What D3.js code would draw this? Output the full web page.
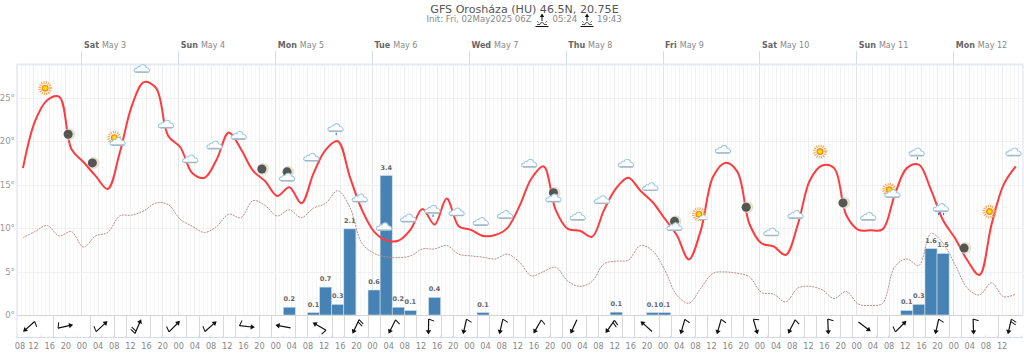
<!DOCTYPE html>
<html>
<head>
<meta charset="utf-8">
<style>
	body { margin: 0; background: #fff; }
	text { font-family: "DejaVu Sans", sans-serif; }
</style>
</head>
<body>
<svg width="1024" height="355"></svg>

<script src="https://d3js.org/d3.v7.min.js"></script>
<script>

	// Values, one entry per 3h step starting Fri 09:30
	const temperature = [
		16.9, 22.3, 24.7, 25.1, 19.1, 17.6, 16.0, 14.5, 18.7, 24.1, 26.8, 26.1, 20.6, 19.3, 16.3, 15.8, 17.9, 21.0, 19.1, 16.6, 15.4,
		13.7, 14.7, 12.85, 16.3, 19.0, 20.0, 15.9, 12.1, 9.6, 8.6, 8.55, 9.8, 12.2, 10.4, 13.4, 10.2, 9.8, 9.1, 9.2, 10.0, 12.5,
		15.7, 17.1, 12.1, 9.9, 9.7, 9.0, 12.1, 14.6, 15.8, 14.3, 13.0, 11.1, 9.2, 6.4, 9.8, 15.9, 17.5, 16.5, 10.5, 8.25, 7.9,
		6.9, 10.4, 15.5, 17.2, 16.9, 11.5, 9.8, 9.75, 9.85, 13.8, 16.9, 17.3, 14.4, 10.9, 8.8, 6.3, 4.6, 10.4, 15.0, 17.1
	]
	const dewPoint = [
		8.9, 9.6, 10.3, 9.1, 9.6, 7.8, 9.1, 9.5, 11.4, 11.5, 12.0, 12.9, 12.7, 11.0, 10.2, 9.5, 10.2, 11.6, 11.2, 13.15, 12.6,
		11.4, 12.1, 11.2, 12.3, 12.85, 14.3, 12.4, 8.25, 7.1, 6.7, 6.6, 6.8, 7.6, 7.6, 8.0, 7.0, 6.8, 6.65, 6.45, 7.0, 6.1,
		4.5, 5.0, 5.5, 3.9, 3.3, 3.85, 5.9, 6.2, 6.3, 8.0, 7.4, 5.2, 2.3, 1.35, 3.1, 4.8, 4.95, 4.8, 4.4, 2.6, 2.4,
		1.5, 3.1, 3.3, 2.9, 1.9, 2.7, 1.25, 1.1, 1.35, 5.55, 6.45, 5.7, 9.4, 8.25, 5.75, 3.1, 2.3, 3.7, 2.1, 2.4
	]

	// Precipitation, mm per step
	const rainSteps = [22, 24, 25, 26, 27, 29, 30, 31, 32, 34, 38, 49, 52, 53, 73, 74, 75, 76]
	const rainValues = [0.19, 0.06, 0.68, 0.26, 2.1, 0.61, 3.4, 0.19, 0.11, 0.43, 0.06, 0.07, 0.06, 0.06, 0.11, 0.26, 1.62, 1.5]

	// Weather symbols, one every 6h from Fri 15:00
	const iconKinds = [
		"sun", "moon", "moon", "suncloud", "cloud", "cloud", "cloud", "cloud", "cloud", "moon", "mooncloud",
		"cloud", "rain", "cloud", "rain2", "cloud", "rain", "cloud", "cloud", "cloud", "cloud",
		"mooncloud", "cloud", "cloud", "cloud", "cloud", "mooncloud", "sunsmall", "cloud", "moon", "cloud",
		"cloud", "sun", "moon", "cloud", "suncloud", "rain", "rain2", "moon", "sun", "cloud"
	]
	const iconLevels = [
		26.1, 20.8, 17.5, 20.0, 28.4, 22.0, 18.0, 19.6, 20.7, 16.8, 15.9,
		18.2, 21.6, 13.5, 10.2, 11.2, 12.2, 11.9, 10.8, 11.6, 17.5,
		13.5, 11.4, 13.3, 17.5, 14.8, 10.2, 11.6, 19.1, 12.4, 9.6,
		11.6, 18.8, 12.9, 11.4, 14.0, 18.8, 12.4, 7.7, 11.9, 18.8
	]

	// Wind arrows, one every 9h: heading in degrees, number of barbs
	const windHeading = [
		228, 77, 47, 23, 45, 48, 96, 281, 300, 205, 207, 181, 193, 193,
		210, 204, 215, 312, 196, 196, 164, 207, 178, 127, 45, 193, 178, 193
	]
	const windBarbs = [1, 1, 1, 2, 1, 1, 1, 0, 1, 2, 1, 1, 1, 1, 1, 0, 2, 0, 1, 1, 1, 1, 1, 0, 1, 1, 1, 2]

	const dayLabels = ["Sat", "Sun", "Mon", "Tue", "Wed", "Thu", "Fri", "Sat", "Sun", "Mon"]
	const dateLabels = ["May 3", "May 4", "May 5", "May 6", "May 7", "May 8", "May 9", "May 10", "May 11", "May 12"]
	const tempTicks = [0, 5, 10, 15, 20, 25]

	// Times
	const hour = 3600000
	const start = Date.UTC(2025, 4, 2, 8)
	const stepTime = k => start + (1.5 + 3 * k) * hour
	const hoursFrom = (n, every, from) => d3.range(n).map(i => start + (from + i * every) * hour)

	// Scales
	const left = 16.9, right = 1023, plotTop = 64.7, zero = 315, stripBottom = 337.5
	const x = d3.scaleUtc().domain([start, start + 249.3 * hour]).range([left, right])
	const y = d3.scaleLinear().domain([0, 28.8]).range([zero, plotTop])
	const rainY = d3.scaleLinear().domain([0, 3.4]).range([zero, 175.5])

	const svg = d3.select("svg")

	// Title
	svg.append("text").attr("x", 524.5).attr("y", 12.5).attr("text-anchor", "middle")
		.attr("font-size", 11.1).attr("fill", "#555").text("GFS Orosháza (HU) 46.5N, 20.75E")
	const sub = svg.append("g").attr("font-size", 8.6).attr("fill", "#888")
	sub.append("text").attr("x", 426.5).attr("y", 22).text("Init: Fri, 02May2025 06Z")
	sub.append("text").attr("x", 552.5).attr("y", 22).text("05:24")
	sub.append("text").attr("x", 597).attr("y", 22).text("19:43")

	// Sunrise / sunset markers in the subtitle
	const riseSet = svg.selectAll(".riseset").data([542, 587]).join("g")
		.attr("class", "riseset")
		.attr("transform", d => `translate(${d},0)`)
		.attr("stroke", "#111").attr("fill", "none")
	riseSet.append("path").attr("d", "M0,15V21").attr("stroke-width", 1)
	riseSet.append("path").attr("d", "M-2.2,17L0,13.5L2.2,17Z").attr("fill", "#111").attr("stroke", "none")
	riseSet.append("path").attr("d", "M-6.5,26.5H6.5").attr("stroke-width", 1)
	riseSet.append("path").attr("d", "M-5,24.5H-2M2,24.5H5M-2,24.5A2,2 0 0 1 2,24.5M-3.5,22.5L-4.8,21.2M3.5,22.5L4.8,21.2").attr("stroke-width", .7)

	// Grid
	const grid = svg.append("g").attr("fill", "none")
	const vlines = (ticks, color) => grid.append("g").selectAll("line").data(ticks).join("line")
		.attr("x1", d => Math.round(x(d)) + .5).attr("x2", d => Math.round(x(d)) + .5)
		.attr("y1", plotTop).attr("y2", zero).attr("stroke", color)
	vlines(hoursFrom(249, 1, 1), "#f7f7f7")
	vlines(hoursFrom(63, 4, 0), "#efefef")
	vlines(hoursFrom(10, 24, 16), "#e4e4e4")
	grid.append("g").selectAll("line").data(tempTicks.slice(1)).join("line")
		.attr("x1", left).attr("x2", right).attr("y1", d => Math.round(y(d)) + .5).attr("y2", d => Math.round(y(d)) + .5)
		.attr("stroke", "#f1f1f1")

	// Frame
	grid.append("path").attr("d", `M${left},64.5H${right}`).attr("stroke", "#e4e9f5").attr("stroke-width", 2)
	grid.append("path").attr("d", `M${left},64V${stripBottom}M${right},64V315`).attr("stroke", "#dfe4ee")

	// Day ticks and labels
	const days = hoursFrom(10, 24, 16)
	grid.append("g").selectAll("line").data(days).join("line")
		.attr("x1", d => Math.round(x(d)) + .5).attr("x2", d => Math.round(x(d)) + .5)
		.attr("y1", 51).attr("y2", 64).attr("stroke", "#d5dcec")
	const dayText = svg.append("g").selectAll("text").data(days).join("text")
		.attr("x", d => x(d) + 2.5).attr("y", 48).attr("font-size", 8).attr("fill", "#888")
	dayText.append("tspan").attr("font-weight", "bold").attr("fill", "#666").text((d, i) => dayLabels[i])
	dayText.append("tspan").attr("dx", 3).text((d, i) => dateLabels[i])

	// Wind strip cells
	const cellsA = d3.range(27).map(i => start + (9 + 9 * i) * hour)
	const cellsB = d3.range(24).map(i => start + (24 + 9 * i) * hour)
	grid.append("g").selectAll("line").data(cellsA.concat(cellsB)).join("line")
		.attr("x1", d => Math.round(x(d)) + .5).attr("x2", d => Math.round(x(d)) + .5)
		.attr("y1", zero).attr("y2", 337).attr("stroke", "#d9d9d9")

	// Y axis
	const yAxis = svg.append("g").attr("transform", `translate(${left},0)`)
		.call(d3.axisLeft(y).tickValues(tempTicks).tickFormat(d => d + "°").tickSize(0).tickPadding(2))
	yAxis.select(".domain").remove()
	yAxis.selectAll("text").attr("font-size", 8.6).attr("fill", "#999").style("font-family", "'DejaVu Sans'")

	// Bars
	const barOf = i => ({ k: rainSteps[i], v: rainValues[i] })
	const bars = d3.range(rainSteps.length).map(barOf)
	svg.append("g").selectAll("rect").data(bars).join("rect")
		.attr("x", d => x(stepTime(d.k) - 1.5 * hour))
		.attr("width", d => x(stepTime(d.k) + 1.5 * hour) - x(stepTime(d.k) - 1.5 * hour))
		.attr("y", d => rainY(d.v))
		.attr("height", d => zero - rainY(d.v))
		.attr("fill", "#4682b4").attr("stroke", "#d3e1ee").attr("stroke-width", .6)

	// Zero line
	svg.append("path").attr("d", `M${left},315.5H${right}`).attr("stroke", "#d4d4d4").attr("fill", "none")

	// Lines
	const line = d3.line().x((d, i) => x(stepTime(i))).y(d => y(d)).curve(d3.curveCatmullRom.alpha(0.5))
	svg.append("path").attr("d", line(dewPoint)).attr("fill", "none")
		.attr("stroke", "#b98e8e").attr("stroke-width", 1).attr("stroke-dasharray", "2,1")
	svg.append("path").attr("d", line(temperature)).attr("fill", "none")
		.attr("stroke", "#ff3b3f").attr("stroke-width", 2)

	// Weather symbols
	function drawSun(g, dx, dy) {
		const s = g.append("g").attr("transform", `translate(${dx},${dy})`)
		s.append("circle").attr("r", 5.6).attr("fill", "none").attr("stroke", "#fb9f4a").attr("stroke-width", 2.6).attr("stroke-dasharray", "1,1.2")
		s.append("circle").attr("r", 3.5).attr("fill", "#fb8b1e")
		s.append("circle").attr("r", 2.1).attr("fill", "#ffe000")
	}
	function drawMoon(g, dx, dy) {
		const s = g.append("g").attr("transform", `translate(${dx},${dy})`)
		s.append("circle").attr("r", 5.5).attr("fill", "#e8e4c8").attr("stroke", "#cfcfc0").attr("stroke-width", .5)
		s.append("circle").attr("cx", -1.2).attr("r", 4.5).attr("fill", "#555")
	}
	function drawCloud(g, dx, dy, scale) {
		const s = g.append("g").attr("transform", `translate(${dx},${dy}) scale(${scale * 1.15})`)
		s.append("path").attr("d", "M-5,3.5C-7.5,3.5 -7.5,0 -4.5,0C-4.2,-1.5 -2.6,-1.6 -2,-1.2C-1,-4 3.2,-3.8 3.6,-0.6C6.8,-0.8 7.4,3.5 5,3.5Z")
			.attr("fill", "#fdfeff").attr("stroke", "#9cc8e0").attr("stroke-width", .9)
		s.append("path").attr("d", "M-5.6,3.4H5.6").attr("stroke", "#a5b8c4").attr("stroke-width", 1.3)
	}
	function drawDrops(g, spots) {
		g.selectAll(".drop").data(spots).join("path").attr("class", "drop")
			.attr("d", d => `M${d},5.5V8`).attr("stroke", "#2f7fc0").attr("stroke-width", 1.1)
	}

	const iconPainters = {
		sun: g => drawSun(g, 0, 0),
		moon: g => drawMoon(g, 0, 0),
		cloud: g => drawCloud(g, 0, 0, 1),
		suncloud: g => { drawSun(g, -3.5, -3.5); drawCloud(g, 0, 0, 1) },
		mooncloud: g => { drawMoon(g, 1, -5); drawCloud(g, 0, 0, 1) },
		sunsmall: g => { drawSun(g, 0, 0); drawCloud(g, 4, 3, .6) },
		rain: g => { drawCloud(g, 0, 0, 1); drawDrops(g, [0.5]) },
		rain2: g => { drawCloud(g, 0, 0, 1); drawDrops(g, [-2.5, 2.5]) }
	}
	svg.append("g").selectAll("g").data(iconKinds).join("g")
		.attr("transform", (d, i) => `translate(${x(start + (7 + 6 * i) * hour)},${y(iconLevels[i])})`)
		.each(function (d) { iconPainters[d](d3.select(this)) })

	// Bar labels
	svg.append("g").selectAll("text").data(bars).join("text")
		.attr("x", d => x(stepTime(d.k))).attr("y", d => rainY(d.v) - 6)
		.attr("text-anchor", "middle").attr("font-size", 6.5).attr("font-weight", "bold").attr("fill", "#666")
		.text(d => d.v.toFixed(1))

	// Wind arrows
	const wind = svg.append("g").selectAll("g").data(windHeading).join("g")
		.attr("transform", (d, i) => `translate(${x(start + (3 + 9 * i) * hour)},326.5) rotate(${d})`)
		.attr("fill", "none").attr("stroke", "#111")
	wind.append("path").attr("d", "M0,7.5V-5").attr("stroke-width", 1.2)
	wind.append("path").attr("d", "M-2.7,-3.8L0,-8L2.7,-3.8Z").attr("fill", "#111").attr("stroke", "none")
	wind.append("path").attr("stroke-width", 1)
		.attr("d", (d, i) => d3.range(windBarbs[i]).map(b => `M0,${7.5 - b * 2.5}L-5.5,${5.5 - b * 2.5}`).join(""))

	// X axis
	svg.append("path").attr("d", `M${left},337.5H${right}`).attr("stroke", "#d5dcee").attr("fill", "none")
	svg.append("g").selectAll("line").data(hoursFrom(84, 3, 0)).join("line")
		.attr("x1", d => x(d)).attr("x2", d => x(d)).attr("y1", 335.5).attr("y2", 338.5).attr("stroke", "#d5dcee")
	const xAxis = svg.append("g").attr("transform", "translate(0,337)")
		.call(d3.axisBottom(x).tickValues(hoursFrom(62, 4, 0)).tickFormat(d3.utcFormat("%H")).tickSize(0).tickPadding(6))
	xAxis.select(".domain").remove()
	xAxis.selectAll("text").attr("font-size", 8.2).attr("fill", "#888").style("font-family", "'DejaVu Sans'")
	xAxis.select(".tick text").attr("dx", 2.5)

</script>
</body>
</html>
